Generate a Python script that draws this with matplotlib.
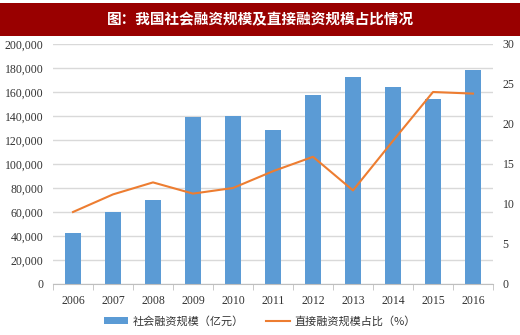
import matplotlib
matplotlib.use('Agg')
import matplotlib.pyplot as plt
from matplotlib.patches import Rectangle
from matplotlib.ticker import FuncFormatter

years = ['2006', '2007', '2008', '2009', '2010', '2011',
         '2012', '2013', '2014', '2015', '2016']
scale = [42696, 59663, 69802, 139104, 140191, 128286,
         157631, 172904, 164133, 154063, 178022]
direct_pct = [9.0, 11.2, 12.7, 11.3, 12.0, 14.1, 15.9, 11.7, 17.9, 24.0, 23.8]

title = '图：我国社会融资规模及直接融资规模占比情况'
bar_label = '社会融资规模（亿元）'
line_label = '直接融资规模占比（%）'

cjk = ['Noto Sans CJK SC', 'DejaVu Sans']
serif = ['Liberation Serif', 'DejaVu Serif']

fig = plt.figure(figsize=(5.2, 3.35), dpi=100)

# title bar
fig.patches.append(Rectangle((0, 1 - 36 / 335), 1, 33 / 335, transform=fig.transFigure,
                             facecolor='#990000', edgecolor='none'))
fig.text(0.5, 1 - 19 / 335, title, ha='center', va='center', color='white',
         fontsize=10.5, fontweight='bold', family=cjk)

ax = fig.add_axes([53 / 520, 1 - 284 / 335, 440 / 520, 240 / 335])
x = list(range(len(years)))
ax.bar(x, scale, width=0.4, color='#5B9BD5', label=bar_label, zorder=2)
ax.set_xlim(-0.5, len(years) - 0.5)
ax.set_ylim(0, 200000)
ax.set_yticks(range(0, 200001, 20000))
ax.yaxis.set_major_formatter(FuncFormatter(lambda v, p: f'{int(v):,}'))
ax.grid(axis='y', color='#D9D9D9', linewidth=1, zorder=0)
ax.set_axisbelow(True)
for s in ['left', 'right', 'top']:
    ax.spines[s].set_visible(False)
ax.spines['bottom'].set_color('#BFBFBF')
ax.set_xticks(x)
ax.set_xticklabels(years)
ax.set_xticks([i - 0.5 for i in range(len(years) + 1)], minor=True)
ax.tick_params(axis='x', which='major', length=0, pad=8)
ax.tick_params(axis='x', which='minor', length=4, color='#BFBFBF')
ax.tick_params(axis='y', length=0, pad=7)
for lab in ax.get_xticklabels() + ax.get_yticklabels():
    lab.set_family(serif)
    lab.set_fontsize(8.5)
    lab.set_color('#333333')

ax2 = ax.twinx()
ax2.plot(x, direct_pct, color='#ED7D31', linewidth=1.5, label=line_label)
ax2.set_ylim(0, 30)
ax2.set_yticks(range(0, 31, 5))
for s in ax2.spines.values():
    s.set_visible(False)
ax2.tick_params(axis='y', length=0, pad=7)
for lab in ax2.get_yticklabels():
    lab.set_family(serif)
    lab.set_fontsize(8.5)
    lab.set_color('#333333')

h1, l1 = ax.get_legend_handles_labels()
h2, l2 = ax2.get_legend_handles_labels()
fig.legend(h1 + h2, l1 + l2, loc='center', bbox_to_anchor=(0.5, 1 - 321 / 335),
           ncol=2, frameon=False, prop={'family': cjk, 'size': 8},
           handlelength=2.2, handleheight=0.5, handletextpad=0.4,
           columnspacing=2, labelcolor='#333333')

fig.savefig('out.png', dpi=100)
